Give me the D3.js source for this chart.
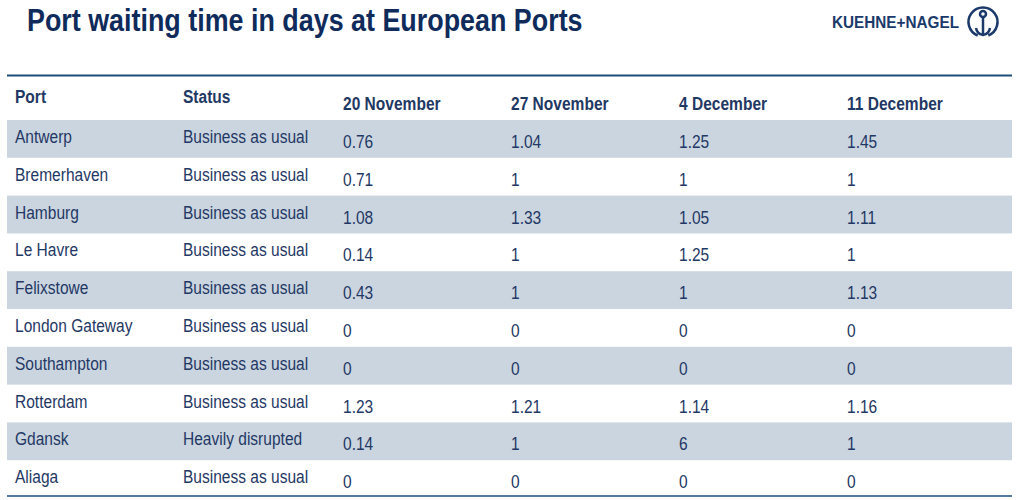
<!DOCTYPE html>
<html><head><meta charset="utf-8">
<script src="https://cdn.jsdelivr.net/npm/d3@7"></script>
<style>body{margin:0;background:#fff}</style>
</head><body>
<svg id="chart" width="1017" height="500"></svg>
<script>
// table data
const columns = ["Port", "Status", "20 November", "27 November", "4 December", "11 December"];
const ports = ["Antwerp", "Bremerhaven", "Hamburg", "Le Havre", "Felixstowe", "London Gateway", "Southampton", "Rotterdam", "Gdansk", "Aliaga"];
const statuses = ["Business as usual", "Business as usual", "Business as usual", "Business as usual", "Business as usual", "Business as usual", "Business as usual", "Business as usual", "Heavily disrupted", "Business as usual"];
const nov20 = ["0.76", "0.71", "1.08", "0.14", "0.43", "0", "0", "1.23", "0.14", "0"];
const nov27 = ["1.04", "1", "1.33", "1", "1", "0", "0", "1.21", "1", "0"];
const dec4 = ["1.25", "1", "1.05", "1.25", "1", "0", "0", "1.14", "6", "0"];
const dec11 = ["1.45", "1", "1.11", "1", "1.13", "0", "0", "1.16", "1", "0"];

const navy = "#1f3864";
const font = "'Liberation Sans', Arial, sans-serif";
const sx = 0.84; // condensed look
const svg = d3.select("#chart");
const place = (x, y) => `translate(${x},${y}) scale(${sx},1)`;

// title
svg.append("text").attr("transform", place(27, 31))
  .attr("font-family", font).attr("font-weight", "bold").attr("font-size", 32)
  .attr("fill", "#0f2b5b").text("Port waiting time in days at European Ports");

// logo
svg.append("text").attr("x", 832).attr("y", 28)
  .attr("font-family", font).attr("font-weight", "bold").attr("font-size", 16)
  .attr("textLength", 127).attr("lengthAdjust", "spacingAndGlyphs").attr("fill", "#1b3a6b").text("KUEHNE+NAGEL");
const logo = svg.append("g").attr("transform", "translate(983,22)")
  .attr("fill", "none").attr("stroke", "#1b3a6b").attr("stroke-width", 2.5);
logo.append("path").attr("d", d3.arc()({innerRadius: 14.5, outerRadius: 14.5, startAngle: Math.PI * 1.12, endAngle: Math.PI * 2.88}));
logo.append("circle").attr("cy", -8).attr("r", 3);
logo.append("line").attr("y1", -5).attr("y2", 12);
logo.append("path").attr("d", "M-7,6 Q-6,12 0,13 Q6,12 7,6");

// table layout
const colX = [15, 183, 343, 511, 679, 847];
const x = d3.scaleOrdinal().domain(columns).range(colX);
const y = d3.scaleBand().domain(ports).range([120, 498]);

svg.append("line").attr("x1", 7).attr("x2", 1012).attr("y1", 75.5).attr("y2", 75.5)
  .attr("stroke", "#1f4e79").attr("stroke-width", 2);
svg.append("line").attr("x1", 7).attr("x2", 1012).attr("y1", 496).attr("y2", 496)
  .attr("stroke", "#1f4e79").attr("stroke-width", 1.5);

svg.selectAll("rect.band").data(ports.filter((d, i) => i % 2 === 0)).join("rect")
  .attr("x", 7).attr("width", 1005).attr("y", d => y(d)).attr("height", y.bandwidth())
  .attr("fill", "#cbd5e0");

svg.selectAll("text.head").data(columns).join("text")
  .attr("transform", (d, i) => place(x(d), i < 2 ? 103 : 110))
  .attr("font-family", font).attr("font-weight", "bold").attr("font-size", 18.5)
  .attr("fill", navy).text(d => d);

const cols = [ports, statuses, nov20, nov27, dec4, dec11];
cols.forEach((arr, ci) => {
  svg.selectAll(null).data(arr).join("text")
    .attr("transform", (d, i) => place(x(columns[ci]), y(ports[i]) + (ci < 2 ? 23 : 28)))
    .attr("font-family", font).attr("font-size", 18.5)
    .attr("fill", navy).text(d => d);
});
</script>
</body></html>
